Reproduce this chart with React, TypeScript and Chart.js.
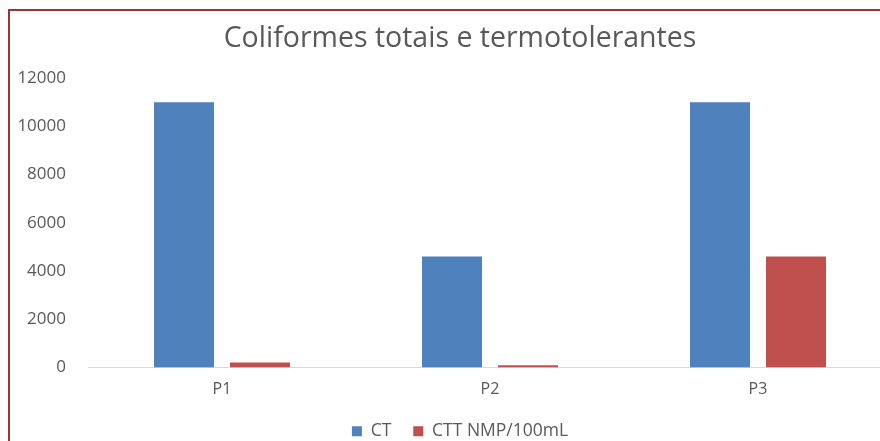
import React, { useEffect, useRef } from "react";
import { Chart, registerables } from "chart.js";

Chart.register(...registerables);

const categories = ["P1", "P2", "P3"];
const ctValues = [11000, 4600, 11000];
const cttValues = [210, 93, 4600];
const seriesNames = ["CT", "CTT NMP/100mL"];
const titleText = "Coliformes totais e termotolerantes";
const yMin = 0;
const yMax = 12000;
const yStep = 2000;

export default function App() {
  const ref = useRef<HTMLCanvasElement | null>(null);

  useEffect(() => {
    if (!ref.current) return;
    const grey = "#595959";
    const chart = new Chart(ref.current, {
      type: "bar",
      data: {
        labels: categories,
        datasets: [
          {
            label: seriesNames[0],
            data: ctValues,
            backgroundColor: "#4f81bd",
            categoryPercentage: 0.567,
            barPercentage: 0.79,
          },
          {
            label: seriesNames[1],
            data: cttValues,
            backgroundColor: "#c0504d",
            categoryPercentage: 0.567,
            barPercentage: 0.79,
          },
        ],
      },
      options: {
        animation: false,
        responsive: true,
        maintainAspectRatio: false,
        layout: { padding: 0 },
        plugins: {
          title: {
            display: true,
            text: titleText,
            color: grey,
            font: { family: "'Open Sans'", size: 28.5, weight: "normal" },
            padding: { top: 11, bottom: 22 },
          },
          legend: {
            position: "bottom",
            labels: {
              color: grey,
              font: { family: "'Open Sans'", size: 17.5 },
              boxWidth: 10,
              boxHeight: 10,
              padding: 22,
            },
          },
          tooltip: { enabled: false },
        },
        scales: {
          x: {
            grid: { display: false, drawTicks: false },
            border: { display: true, color: "#d9d9d9", width: 1 },
            ticks: {
              color: grey,
              font: { family: "'Open Sans'", size: 16 },
              padding: 12,
            },
            afterFit: (s: any) => {
              s.height = 33;
            },
          },
          y: {
            min: yMin,
            max: yMax,
            grid: { display: false, drawTicks: false },
            border: { display: false },
            ticks: {
              stepSize: yStep,
              color: grey,
              font: { family: "'Open Sans'", size: 17 },
              padding: 22,
              callback: (v: any) => String(v),
            },
            afterFit: (s: any) => {
              s.width = 78;
            },
          },
          y2: {
            position: "right",
            display: true,
            grid: { display: false, drawTicks: false },
            border: { display: false },
            ticks: { display: false },
            afterFit: (s: any) => {
              s.width = 18;
            },
          },
        },
      },
    });
    return () => chart.destroy();
  }, []);

  return (
    <div>
      <div
        style={{
          position: "fixed",
          left: 8,
          top: 9,
          width: 1000,
          height: 600,
          border: "2px solid #9b3535",
          boxSizing: "border-box",
          background: "#fff",
        }}
      />
      <div
        style={{
          position: "fixed",
          left: 10,
          top: 11,
          width: 900,
          height: 439,
        }}
      >
        <canvas ref={ref} />
      </div>
    </div>
  );
}
